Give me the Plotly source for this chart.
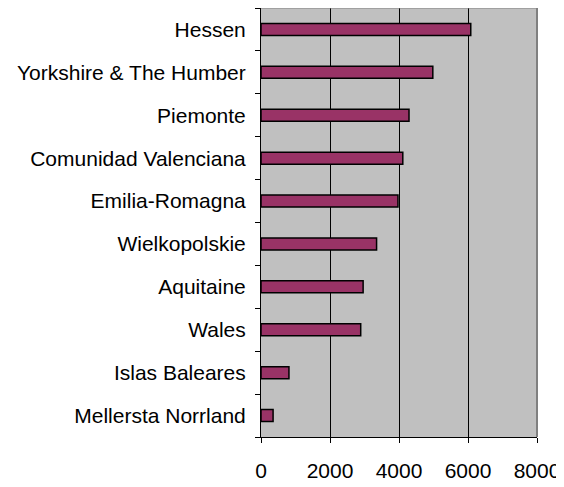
import plotly.graph_objects as go

regions = ["Hessen", "Yorkshire & The Humber", "Piemonte", "Comunidad Valenciana",
           "Emilia-Romagna", "Wielkopolskie", "Aquitaine", "Wales",
           "Islas Baleares", "Mellersta Norrland"]
values = [6080, 4980, 4290, 4110, 3970, 3350, 2960, 2890, 810, 350]
x_ticks = [0, 2000, 4000, 6000, 8000]

fig = go.Figure(go.Bar(
    y=regions, x=values, orientation="h",
    marker=dict(color="#993366", line=dict(color="black", width=1.5)),
    width=0.28,
))

# page body adds an 8px offset; sizes compensate for it
fig.update_layout(
    width=556, height=479,
    margin=dict(l=253, r=27, t=0, b=50, autoexpand=False),
    paper_bgcolor="white", plot_bgcolor="#C0C0C0",
    font=dict(family="Liberation Sans, Arial", size=21, color="black"),
    showlegend=False,
)
fig.update_xaxes(
    range=[0, 8000], tickvals=x_ticks, ticktext=[str(t) for t in x_ticks],
    showgrid=True, gridcolor="black", gridwidth=1,
    showline=True, linecolor="black", linewidth=1,
    ticks="outside", ticklen=5, tickcolor="black",
    tickfont=dict(size=21), ticklabelstandoff=10, zeroline=False,
)
fig.update_yaxes(
    categoryorder="array", categoryarray=regions[::-1],
    showgrid=False, showline=True, linecolor="black", linewidth=1,
    ticks="outside", ticklen=5, tickcolor="black", tickson="boundaries",
    ticklabelstandoff=10, tickfont=dict(size=21),
)
fig.add_shape(type="line", xref="paper", yref="paper", x0=1, x1=1, y0=0, y1=1,
              line=dict(color="#808080", width=2))
fig.add_shape(type="line", xref="paper", yref="paper", x0=0, x1=1, y0=1, y1=1,
              line=dict(color="#808080", width=1))
fig.write_html("out.html")
